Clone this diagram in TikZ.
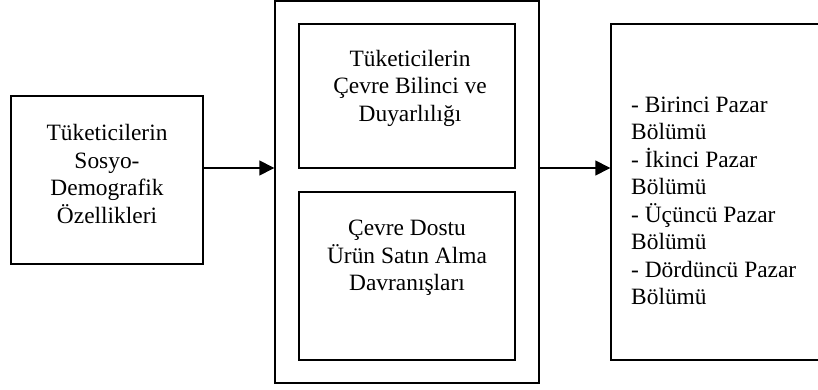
\documentclass[tikz,border=0pt]{standalone}
\usepackage{fontspec}
\setmainfont{Liberation Serif}
\usetikzlibrary{arrows.meta}
\begin{document}
\begin{tikzpicture}[x=1pt,y=-1pt,
  box/.style={draw, line width=1.4pt, inner sep=0pt, rectangle},
  txt/.style={font=\fontsize{23.4}{27.5}\selectfont, align=center, inner sep=0pt},
  conn/.style={line width=1.4pt, -{Triangle[length=15pt,width=15pt]}}]
\clip (0,0) rectangle (818,390);
\path[use as bounding box] (0,0) rectangle (818,390);
% boxes
\node[box, minimum width=192pt, minimum height=168pt] (src) at (107,180) {};
\node[box, minimum width=264pt, minimum height=382pt] (mid) at (407,192) {};
\node[box, minimum width=216pt, minimum height=144pt] (aware) at (407,96) {};
\node[box, minimum width=216pt, minimum height=168pt] (buy) at (407,276) {};
\node[box, minimum width=219pt, minimum height=336pt] (seg) at (720.5,192) {};
% texts
\node[txt] (srct) at (107,174) {Tüketicilerin\\Sosyo-\\Demografik\\Özellikleri};
\node[txt] (awaret) at (410,88) {Tüketicilerin\\Çevre Bilinci ve\\Duyarlılığı};
\node[txt] (buyt) at (407,258) {Çevre Dostu\\Ürün Satın Alma\\Davranışları};
\node[txt, align=left, anchor=west] (segt) at (631,201) {- Birinci Pazar\\Bölümü\\- İkinci Pazar\\Bölümü\\- Üçüncü Pazar\\Bölümü\\- Dördüncü Pazar\\Bölümü};
% connectors
\coordinate (ay) at (0,168);
\draw[conn] (src.east |- ay) -- (mid.west |- ay);
\draw[conn] (mid.east |- ay) -- (seg.west |- ay);
\end{tikzpicture}
\end{document}
